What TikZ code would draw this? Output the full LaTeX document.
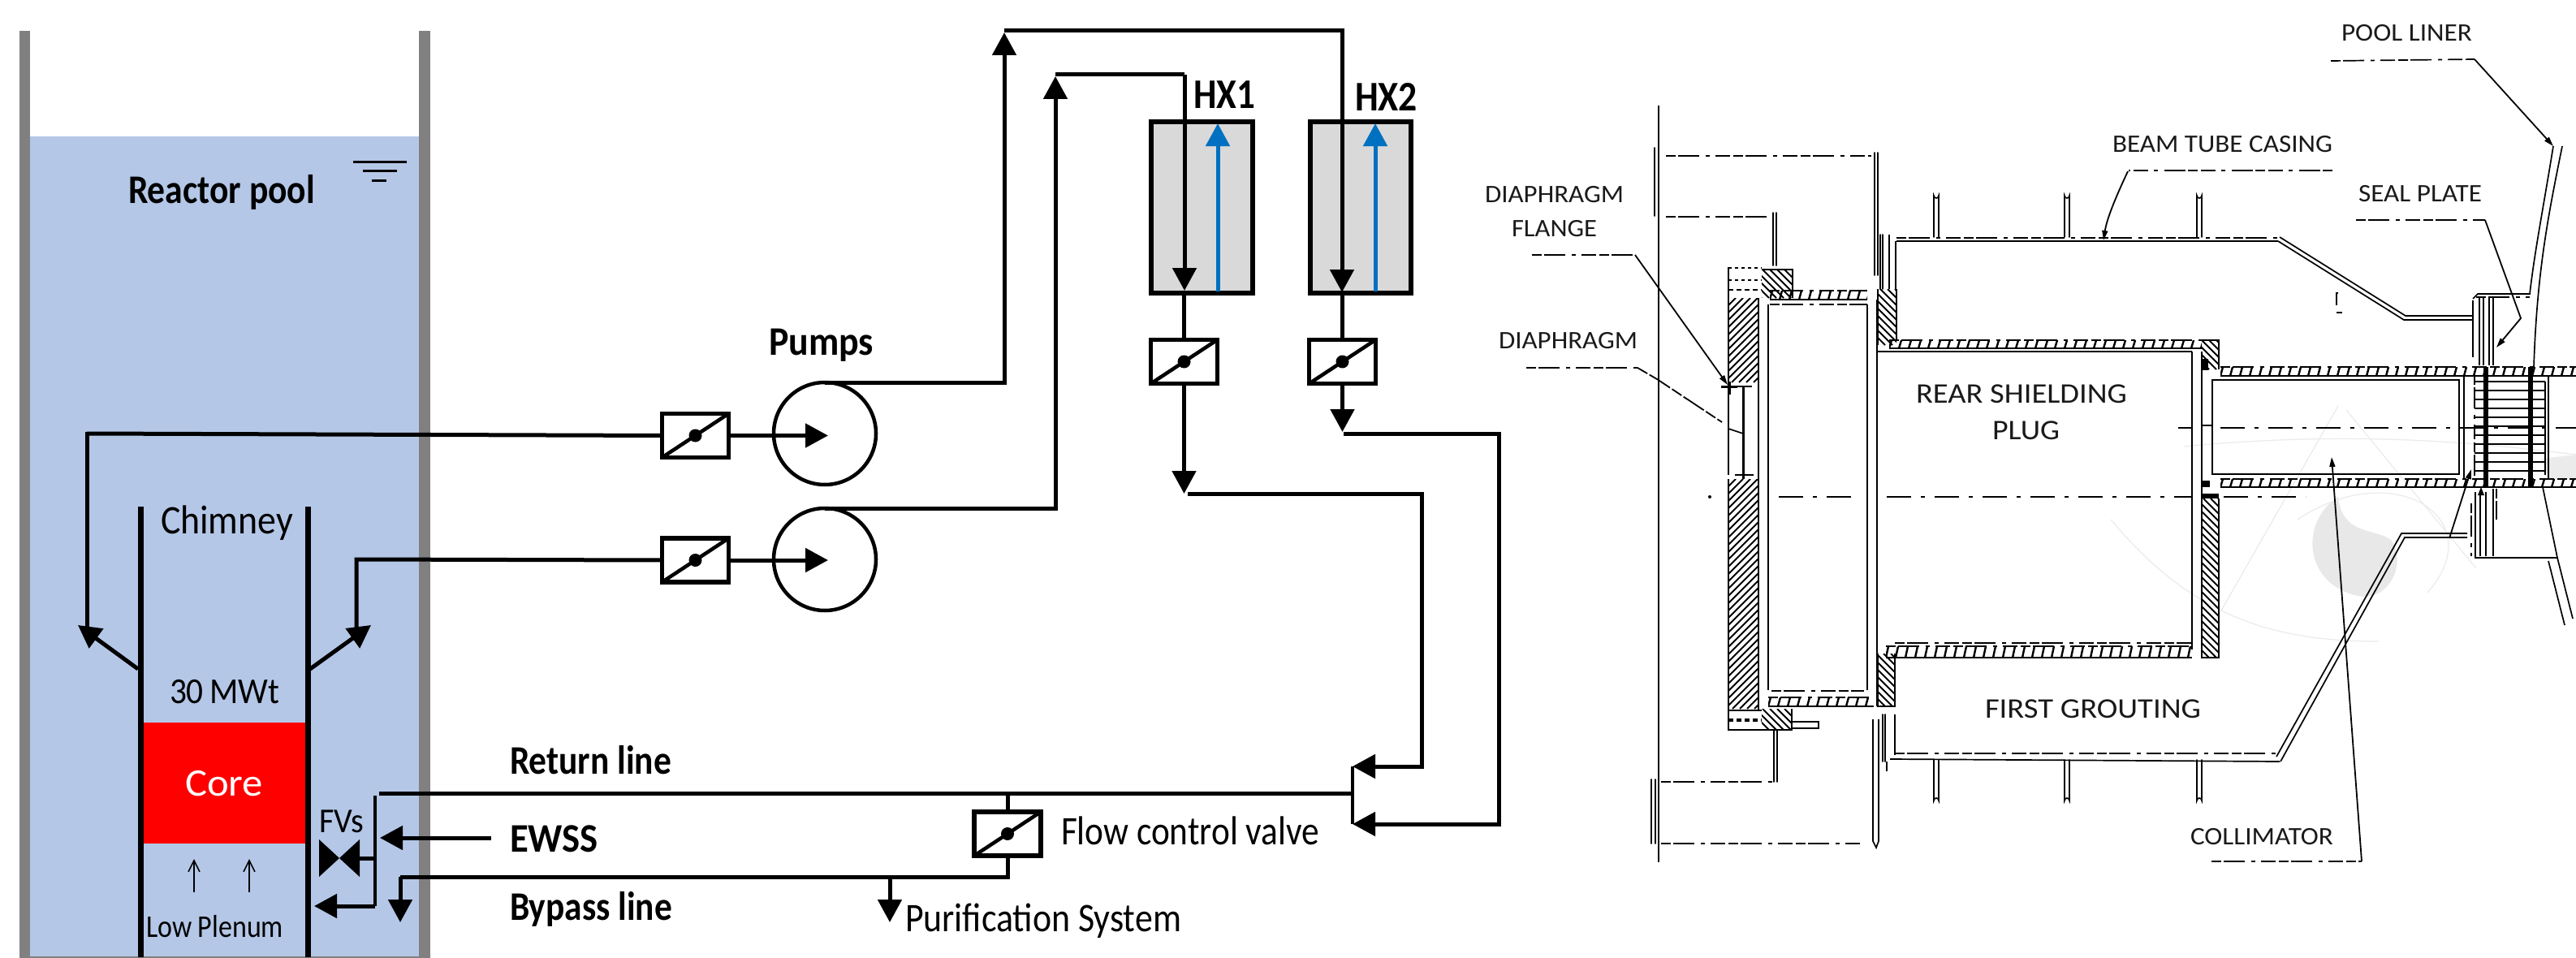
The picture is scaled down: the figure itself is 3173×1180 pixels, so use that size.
\documentclass[tikz,border=0pt]{standalone}
\usepackage{fontspec}
\usepackage{graphicx}
\setmainfont{Carlito}
\usetikzlibrary{arrows.meta}
\definecolor{water}{HTML}{B4C7E7}
\definecolor{wall}{HTML}{808080}
\definecolor{hxgray}{HTML}{D9D9D9}
\definecolor{hxblue}{HTML}{0070C0}
\definecolor{ink}{HTML}{1A1A1A}
\newcommand{\lblsize}[2]{\fontsize{#1}{#1}\selectfont #2}
% name, x, y(baseline), width, size, text
\newcommand{\lbl}[6]{\node[lblnode] (#1) at (#2,#3) {\resizebox{#4pt}{\height}{\lblsize{#5}{#6}}};}
\newcommand{\lblb}[6]{\node[lblnode] (#1) at (#2,#3) {\resizebox{#4pt}{\height}{\lblsize{#5}{\bfseries #6}}};}
\newcommand{\lbli}[6]{\node[lblnode,text=ink] (#1) at (#2,#3) {\resizebox{#4pt}{\height}{\lblsize{#5}{#6}}};}
% hatching
\newcommand{\hatchf}[4]{\begin{scope}\clip (#1,#2) rectangle (#3,#4);
 \foreach \t in {0,9,...,640}{\draw[hl] ({#1-(#4-#2)+\t},#4) -- ++({#4-#2},{-(#4-#2)});}\end{scope}}
\newcommand{\hatchb}[4]{\begin{scope}\clip (#1,#2) rectangle (#3,#4);
 \foreach \t in {0,9,...,640}{\draw[hl] ({#1+\t-(#4-#2)},#2) -- ++({#4-#2},{#4-#2});}\end{scope}}
% ladder band
\newcommand{\band}[4]{\draw[dd] (#1,#3) -- (#2,#3); \draw[art] (#1,#4) -- (#2,#4);
 \begin{scope}\clip (#1,#3) rectangle (#2,#4);
 \foreach \t in {0,12,...,900}{\draw[tick] ({#1+\t},#4) -- ++(3,{#3-#4});}\end{scope}}
% double line
\newcommand{\dblv}[4]{\draw[art,line cap=round] (#1,#2) -- (#1,#3) (#1+#4,#2) -- (#1+#4,#3);}
\tikzset{
 lblnode/.style={anchor=base west,inner sep=0pt,outer sep=0pt},
 pipe/.style={line width=5pt,draw=black,line cap=butt,line join=miter},
 flow/.style={pipe,-{Triangle[length=28pt,width=29pt]}},
 bluef/.style={line width=5pt,draw=hxblue,-{Triangle[length=28pt,width=29pt]}},
 thinflow/.style={line width=2pt,draw=black,-{Straight Barb[length=14pt,width=14pt,line width=1.6pt]}},
 wallw/.style={line width=7pt,draw=black},
 pumpnode/.style={circle,draw=black,line width=4.5pt,minimum size=126pt,inner sep=0pt,outer sep=0pt},
 hxnode/.style={rectangle,draw=black,fill=hxgray,line width=6pt,outer sep=0pt,inner sep=0pt},
 valvenode/.style={rectangle,draw=black,fill=white,line width=5.5pt,minimum width=82pt,minimum height=54pt,inner sep=0pt,outer sep=0pt,
   path picture={\draw[line width=4.5pt] (path picture bounding box.south west) -- (path picture bounding box.north east);
     \fill[black] (path picture bounding box.center) circle (8pt);}},
 art/.style={line width=1.7pt,draw=black},
 dd/.style={art,dash pattern=on 12pt off 3pt on 26pt off 8pt on 5pt off 7pt on 18pt off 4pt},
 cl/.style={line width=2.2pt,draw=black,dash pattern=on 30pt off 12pt on 5pt off 12pt},
 hl/.style={line width=2pt,draw=black},
 tick/.style={line width=2.4pt,draw=black},
 leader/.style={line width=1.8pt,draw=black},
 ltip/.style={leader,-{Triangle[length=12pt,width=7pt]}},
 faint/.style={line width=1.2pt,draw=black!8},
}
\begin{document}
\begin{tikzpicture}[x=1pt,y=-1pt]
\useasboundingbox (0,0) rectangle (3173,1180);
\fill[white] (0,0) rectangle (3173,1180);
%% pool
\fill[water] (37,168) rectangle (516,1178);
\fill[wall] (24,38) rectangle (37,1180);
\fill[wall] (516,38) rectangle (530,1180);
\fill[wall] (37,1178) rectangle (516,1180);
\draw[line width=3pt] (435,199) -- (501,199);
\draw[line width=3pt] (447,210) -- (489,210);
\draw[line width=3pt] (458,222) -- (476,222);
\lblb{tpool}{158}{251}{230}{50}{Reactor pool}
%% core + chimney
\fill[red] (176,890) rectangle (376,1039);
\node[lblnode,anchor=center,text=white] (tcore) at (276,965) {\resizebox{96pt}{\height}{\lblsize{48}{Core}}};
\coordinate (chL) at (173,624); \coordinate (chLb) at (173,1179);
\coordinate (chR) at (379,624); \coordinate (chRb) at (379,1179);
\draw[wallw] (chL) -- (chLb);
\draw[wallw] (chR) -- (chRb);
\lbl{tchim}{198}{657}{163}{50}{Chimney}
\lbl{tmw}{209}{866}{135}{45}{30\kern-.05em\ MWt}
\lbl{tlow}{180}{1154}{169}{39}{Low Plenum}
\coordinate (ua) at (239,1099); \coordinate (uat) at (239,1058);
\coordinate (ub) at (307,1099); \coordinate (ubt) at (307,1058);
\draw[thinflow] (ua) -- (uat);
\draw[thinflow] (ub) -- (ubt);
%% pumps and valves
\node[pumpnode] (p1) at (1016,534) {};
\node[pumpnode] (p2) at (1016,689) {};
\node[valvenode] (v1) at (856.5,536.5) {};
\node[valvenode] (v2) at (856.5,690) {};
\node[hxnode,minimum width=125pt,minimum height=211pt] (hx1) at (1480.5,255.5) {};
\node[hxnode,minimum width=124pt,minimum height=211pt] (hx2) at (1676,255.5) {};
\node[valvenode] (v3) at (1458.5,445.5) {};
\node[valvenode] (v4) at (1653.5,445.5) {};
\node[valvenode] (v5) at (1241,1027) {};
\lblb{tpumps}{947}{437}{129}{50}{Pumps}
\lblb{thx1}{1470}{134}{76}{52}{HX1}
\lblb{thx2}{1669}{136}{77}{52}{HX2}
\lblb{tret}{628}{953}{199}{50}{Return line}
\lblb{tewss}{628}{1049}{109}{50}{EWSS}
\lblb{tbyp}{628}{1133}{200}{50}{Bypass line}
\lbl{tfcv}{1307}{1040}{318}{50}{Flow control valve}
\lbl{tpur}{1115}{1147}{340}{50}{Purification System}
\lbl{tfvs}{393}{1025}{55}{43}{FVs}
%% connectors
\coordinate (l1) at (107,534); \coordinate (a1) at (96,770); \coordinate (a1s) at (170,824);
\draw[pipe] (l1) -- (v1.west);
\draw[pipe] ([xshift=-2.5pt]l1) -- (107,534) -- (107,778);
\draw[flow,line width=5pt] (a1s) -- (a1);
\draw[flow] (v1.east) -- ([xshift=4pt]p1.center |- v1.east);
\coordinate (l2) at (439,689); \coordinate (a2) at (457,770); \coordinate (a2s) at (382,824);
\draw[pipe] (v2.west) -- (l2) -- (439,780);
\draw[flow] (a2s) -- (a2);
\draw[flow] (v2.east) -- ([xshift=4pt]p2.center |- v2.east);
\coordinate (t1) at (1237,40); \coordinate (t1c) at (1237,38); \coordinate (t2c) at (1653,38);
\draw[flow] (p1.north) -| (t1);
\draw[pipe] (t1c) -- (t2c) -- (1653,140);
\draw[flow] (t2c) -- (1653,360);
\coordinate (t3) at (1300,94); \coordinate (t3c) at (1300,92); \coordinate (t4c) at (1459,92);
\draw[flow] (p2.north) -| (t3);
\draw[pipe] (t3c) -- (t4c);
\draw[flow] (t4c) -- (1459,358);
\draw[pipe] (hx1.south -| v3.north) -- (v3.north);
\draw[pipe] (hx2.south -| v4.north) -- (v4.north);
\coordinate (jt1) at (1458.5,608); \coordinate (jt2) at (1653.5,532);
\draw[flow] (v3.south) -- (jt1);
\draw[flow] (v4.south) -- (jt2);
\coordinate (b1) at (1500,359); \coordinate (b1t) at (1500,152);
\coordinate (b2) at (1694,359); \coordinate (b2t) at (1694,152);
\draw[bluef] (b1) -- (b1t);
\draw[bluef] (b2) -- (b2t);
\coordinate (m1) at (1666,944); \coordinate (m2) at (1666,1015);
\draw[flow] (1463,608) -- (1751,608) -- (1751,944) -- (m1);
\draw[flow] (1655,534) -- (1846,534) -- (1846,1015) -- (m2);
\draw[line width=4.5pt] (m1) -- (m2);
\coordinate (ret) at (467,977); \coordinate (retj) at (1666,977);
\draw[pipe] (ret) -- (retj);
\draw[pipe] (v5.north |- ret) -- (v5.north);
\coordinate (by) at (493,1080); \coordinate (byt) at (493,1136); \coordinate (byj) at (1241,1080);
\draw[pipe] (v5.south) -- (byj) -- (by);
\draw[flow] (by) -- (byt);
\coordinate (pu) at (1096,1080); \coordinate (put) at (1096,1136);
\draw[flow] (pu) -- (put);
\coordinate (ew) at (605,1032); \coordinate (ewt) at (468,1032);
\draw[flow] (ew) -- (ewt);
\coordinate (fvc) at (418,1057); \coordinate (fvt) at (462,980); \coordinate (fvb) at (462,1116); \coordinate (fvr) at (443,1057);
\fill (393,1034) -- (fvc) -- (393,1080) -- cycle;
\fill (443,1034) -- (fvc) -- (443,1080) -- cycle;
\draw[pipe] (fvr) -- (fvr -| fvt);
\draw[pipe,line width=4pt] (fvt) -- (fvb);
\coordinate (lpt) at (387,1116);
\draw[flow] (fvb) -- (lpt);

%% ================ beam tube drawing ==================
%% watermark
\fill[black!9] (2880,612) .. controls (2835,640) and (2835,715) .. (2900,733) .. controls (2945,745) and (2965,690) .. (2945,665) .. controls (2925,650) and (2885,660) .. (2880,612) -- cycle;
\draw[faint] (2690,550) .. controls (2900,530) and (3050,545) .. (3173,560);
\draw[faint] (2600,640) .. controls (2700,760) and (2800,790) .. (2930,790);
\draw[faint] (2890,505) -- (3050,700);
\draw[faint] (2880,500) -- (2720,780);
\draw[faint] (2830,640) .. controls (2950,560) and (3070,640) .. (2990,730);
\fill[black!8] (3130,565) -- (3173,560) -- (3173,590) -- (3140,590) -- cycle;
%% long front wall
\draw[art,line width=2pt] (2043,130) -- (2043,1062);
\dblv{2038}{182}{266}{5}
\draw[dd] (2052,192) -- (2305,192);
\dblv{2309}{188}{339}{4}
\draw[dd] (2052,267) -- (2179,267);
\dblv{2184}{262}{327}{4}
\dblv{2034}{960}{1039}{5}
\draw[dd] (2046,963) -- (2187,963);
\dblv{2185}{899}{963}{4}
\draw[dd] (2046,1039) -- (2294,1039);
\draw[art] (2307,886) -- (2307,1036) -- (2311,1044) -- (2314,1036) -- (2314,886);
%% flange
\hatchf{2129}{367}{2166}{471}
\hatchf{2129}{590}{2166}{873}
\draw[art] (2129,329) -- (2129,475);
\draw[art] (2129,590) -- (2129,899) -- (2207,899) -- (2207,873);
\draw[art,line width=2.4pt] (2166,367) -- (2166,875);
\draw[art] (2178,375) -- (2178,850);
\hatchb{2170}{332}{2208}{367}
\hatchb{2170}{873}{2207}{899}
\draw[art] (2170,332) -- (2208,332) -- (2208,367);
\draw[tick,dash pattern=on 4pt off 4pt] (2129,330) -- (2170,330);
\draw[tick,dash pattern=on 4pt off 4pt] (2129,345) -- (2170,345);
\draw[tick,dash pattern=on 6pt off 4pt] (2129,357) -- (2170,357);
\draw[tick,dash pattern=on 6pt off 4pt,line width=3.5pt] (2129,887) -- (2170,887);
\draw[art] (2129,875) -- (2170,875);
\draw[art] (2207,889) -- (2240,889) -- (2240,897) -- (2207,897);
%% diaphragm
\draw[art] (2129,475) -- (2129,585);
\draw[art,line width=3pt] (2147,475) -- (2147,590);
\draw[art,line width=3pt] (2120,476) -- (2140,476) (2130,470) -- (2130,486);
\draw[art,line width=2.4pt] (2140,476) -- (2158,476);
\draw[art,line width=2.4pt] (2137,585) -- (2160,585);
\draw[art] (2129,528) -- (2147,534);
%% plug cavity bands
\band{2180}{2300}{358}{369}
\draw[dd] (2180,375) -- (2300,375);
\band{2178}{2308}{859}{870}
\draw[dd] (2182,851) -- (2296,851);
\draw[art] (2300,375) -- (2300,850);
\draw[art] (2312,369) -- (2312,870);
%% columns at casing
\hatchb{2313}{356}{2336}{425}
\hatchb{2313}{805}{2334}{870}
\draw[art] (2313,356) -- (2313,425) (2336,356) -- (2336,420);
\draw[art] (2313,805) -- (2313,870) -- (2334,870) -- (2334,805);
\dblv{2316}{289}{356}{3}
\draw[art] (2327,289) -- (2327,356);
\draw[art] (2335,297) -- (2335,356);
\dblv{2319}{880}{938}{3}
\draw[art] (2334,880) -- (2334,930);
\draw[art] (2324,938) -- (2324,950);
%% upper casing
\draw[dd] (2336,293) -- (2808,293);
\draw[art] (2336,297) -- (2806,297);
\draw[art] (2806,297) -- (2961,394) -- (3046,394);
\draw[art] (2808,292) -- (2963,389) -- (3046,389);
\foreach \fx in {2385,2546,2709}{\draw[art,line cap=round] (\fx-3,292) -- (\fx-3,241) arc[start angle=180,end angle=0,radius=3] -- (\fx+3,292);}
%% lower casing
\draw[dd] (2334,928) -- (2804,928);
\draw[art] (2328,935) -- (2808,938);
\draw[art] (2804,932) -- (2958,657) -- (3039,657);
\draw[art] (2809,938) -- (2962,662) -- (3039,662);
\foreach \fx in {2385,2546,2709}{\draw[art,line cap=round] (\fx-3,936) -- (\fx-3,986) arc[start angle=180,end angle=360,radius=3] -- (\fx+3,936);}
%% plug top & bottom bands
\band{2327}{2712}{419}{429}
\draw[art] (2313,433) -- (2700,433);
\band{2323}{2700}{796}{810}
\draw[dd] (2334,792) -- (2700,792);
\draw[art] (2700,433) -- (2700,800);
\draw[art] (2712,433) -- (2712,810);
%% hatched right column
\hatchb{2712}{419}{2734}{455}
\draw[art] (2712,419) -- (2733,419) -- (2733,455);
\hatchb{2712}{614}{2733}{810}
\draw[art] (2712,614) -- (2712,810) -- (2733,810) -- (2733,614);
\fill (2713,442) rectangle (2720,456);
\fill (2713,592) rectangle (2722,600);
\fill (2713,608) rectangle (2733,614);
%% collimator
\band{2735}{3173}{452}{463}
\band{2735}{3173}{590}{600}
\draw[art] (2725,468) -- (3029,468) -- (3029,584) -- (2725,584) -- cycle;
\draw[art] (2712,455) -- (2712,600) (3035,463) -- (3035,590);
\draw[art] (2712,524) -- (2725,524);
%% grid
\foreach \gy in {470,481,492,503,514,525,536,547,558,569,580}{\draw[art,line width=2.4pt] (3048,\gy) -- (3135,\gy);}
\draw[line width=6pt] (3062,452) -- (3062,600);
\draw[line width=6pt] (3117,452) -- (3117,600);
\draw[art] (3139,462) -- (3139,590) (3135,470) -- (3135,585);
\draw[dd] (3048,462) -- (3048,590);
%% seal top
\draw[art] (3046,370) -- (3046,440);
\draw[art] (3046,368) -- (3052,362) -- (3117,362);
\draw[dd] (3050,366) -- (3116,366);
\foreach \sx in {3054,3059,3066,3071}{\draw[art] (\sx,366) -- (\sx,450);}
%% pool liner
\draw[art] (3145,180) .. controls (3132,260) and (3122,310) .. (3116,362);
\draw[art] (3156,180) .. controls (3140,260) and (3125,330) .. (3121,452);
\draw[art] (3132,600) -- (3150,687) -- (3169,762);
\draw[art] (3139,691) -- (3159,770);
%% seal bottom
\draw[art] (3049,606) -- (3049,687) -- (3150,687);
\draw[art] (3055,606) -- (3055,685) (3062,606) -- (3062,685);
\draw[art] (3071,602) -- (3071,685);
\draw[dd] (3075,602) -- (3075,640);
\draw[dd] (3044,620) -- (3044,685);
\fill (3056,600) -- (3052,610) -- (3060,610) -- cycle;
%% center lines
\draw[cl] (2683,527) -- (2700,527);
\draw[cl] (2735,527) -- (3173,527);
\fill (2106,612) circle (2pt);
\draw[cl] (2191,612) -- (2280,612);
\draw[cl] (2324,612) -- (2700,612);
\draw[cl] (2739,612) -- (2840,612);
%% small mark
\draw[art] (2880,361) -- (2878,361) -- (2878,376);
\draw[art] (2878,385) -- (2885,385);
%% leaders
\draw[dd] (1887,314) -- (2014,314);
\draw[ltip] (2014,314) -- (2128,474);
\draw[dd] (1880,453) -- (2017,453);
\draw[leader,dash pattern=on 14pt off 3pt on 30pt off 3pt] (2017,453) -- (2041,467) -- (2121,520);
\draw[dd] (2873,210) -- (2622,210);
\draw[ltip] (2621,211) .. controls (2605,245) and (2595,270) .. (2591,296);
\draw[dd] (2871,75) -- (3048,73);
\draw[ltip] (3048,73) -- (3145,180);
\draw[dd] (2902,271) -- (3061,271);
\draw[ltip] (3061,271) -- (3105,392) -- (3075,428);
\draw[ltip] (3017,663) -- (3044,578);
\draw[dd] (2724,1061) -- (2909,1061);
\draw[ltip] (2909,1061) -- (2872,563);
%% labels
\lbli{td1}{1829}{249.5}{171}{31}{DIAPHRAGM}
\lbli{td2}{1862}{291}{105}{31}{FLANGE}
\lbli{td3}{1846}{429}{171}{31}{DIAPHRAGM}
\lbli{tr1}{2360}{496}{260}{35}{REAR SHIELDING}
\lbli{tr2}{2454}{541.5}{83}{35}{PLUG}
\lbli{tb}{2602}{187.5}{271}{31}{BEAM TUBE CASING}
\lbli{tpl}{2884}{50.5}{161}{31}{POOL LINER}
\lbli{tsp}{2905}{248}{152}{31}{SEAL PLATE}
\lbli{tfg}{2445}{884}{266}{35}{FIRST GROUTING}
\lbli{tco}{2698}{1040}{176}{31}{COLLIMATOR}
\end{tikzpicture}
\end{document}
